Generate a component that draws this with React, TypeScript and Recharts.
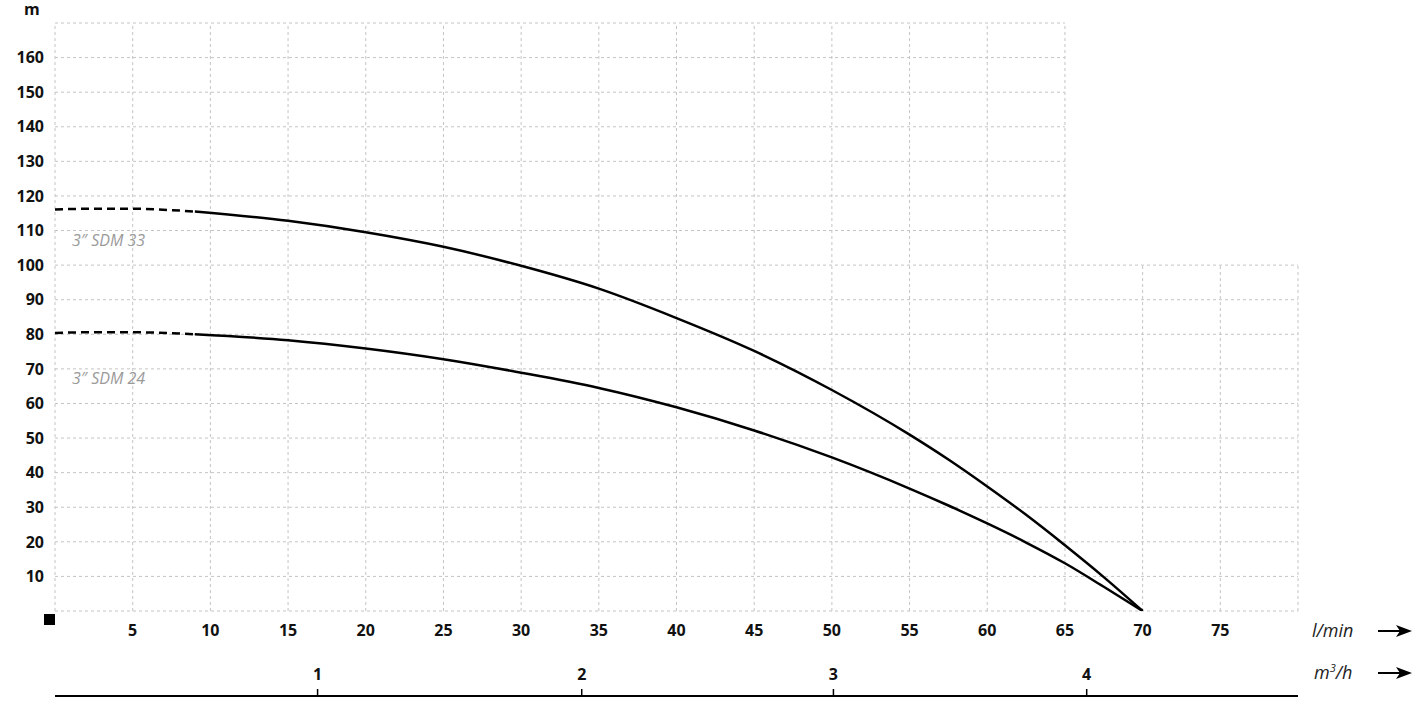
import { LineChart, Line, XAxis, YAxis, ReferenceLine } from 'recharts';

// l/min flow points and head (m)
const sdm33DashedFlow = [0, 2.5, 5, 7.5, 9];
const sdm33DashedHead = [116.1, 116.3, 116.3, 115.9, 115.5];
const sdm33Flow = [9, 15, 20, 25, 30, 35, 40, 45, 50, 55, 57.5, 60, 62.5, 65, 67.5, 70];
const sdm33Head = [115.5, 112.8, 109.5, 105.3, 99.8, 93.2, 84.7, 75.2, 63.9, 51, 43.8, 36.0, 27.8, 19.0, 9.8, 0];

const sdm24DashedFlow = [0, 2.5, 5, 7.5, 9];
const sdm24DashedHead = [80.4, 80.6, 80.6, 80.3, 80];
const sdm24Flow = [9, 15, 20, 25, 30, 35, 40, 45, 50, 55, 57.5, 60, 62.5, 65, 67.5, 70];
const sdm24Head = [80, 78.3, 75.9, 72.8, 68.9, 64.5, 58.9, 52.2, 44.4, 35.4, 30.5, 25.3, 19.8, 13.8, 7, 0];

const flowTicks = [5, 10, 15, 20, 25, 30, 35, 40, 45, 50, 55, 60, 65, 70, 75];
const headTicks = [10, 20, 30, 40, 50, 60, 70, 80, 90, 100, 110, 120, 130, 140, 150, 160];
const gridX = [0, 5, 10, 15, 20, 25, 30, 35, 40, 45, 50, 55, 60, 65, 70, 75, 80];
const gridY = [0, 10, 20, 30, 40, 50, 60, 70, 80, 90, 100, 110, 120, 130, 140, 150, 160, 170];

// m3/h labels and where they sit on the l/min scale
const m3hTicks = [16.9, 33.9, 50.1, 66.4];
const m3hLabels = ['1', '2', '3', '4'];

const toPoints = (xs: number[], ys: number[]) => xs.map((x, i) => ({ q: x, h: ys[i] }));

const GRID = '#c4c4c4';
const FONT = '"Open Sans", "DejaVu Sans", sans-serif';

function M3hTick(props: any) {
  const { x, y, payload } = props;
  let idx = m3hTicks.findIndex((t) => Math.abs(t - payload.value) < 0.01);
  if (idx < 0) idx = payload.index ?? 0;
  return (
    <g>
      <line x1={x} x2={x} y1={y} y2={y - 7} stroke="#000" strokeWidth={1.5} />
      <text x={x} y={y - 16} textAnchor="middle" fontFamily={FONT} fontWeight={700} fontSize={16} fill="#111">
        {m3hLabels[idx]}
      </text>
    </g>
  );
}

function Arrow({ top }: { top: number }) {
  return (
    <svg style={{ position: 'absolute', left: 1378, top: top - 8 }} width={34} height={16}>
      <line x1={0} y1={8} x2={24} y2={8} stroke="#000" strokeWidth={2} />
      <polygon points="18,2 34,8 18,14 22,8" fill="#000" />
    </svg>
  );
}

export default function App() {
  return (
    <div style={{ position: 'absolute', left: 0, top: 0, width: 1420, height: 711, background: '#fff', fontFamily: FONT }}>
      <LineChart width={1420} height={711} margin={{ top: 23, right: 122, left: 0, bottom: 0 }}>
        <XAxis
          xAxisId="a1"
          type="number"
          dataKey="q"
          domain={[0, 80]}
          ticks={flowTicks}
          interval={0}
          height={85}
          axisLine={false}
          tickLine={false}
          tickSize={0}
          tickMargin={14}
          tick={{ fontSize: 16, fontWeight: 700, fill: '#111', fontFamily: FONT }}
          allowDataOverflow
        />
        <XAxis
          xAxisId="a2"
          type="number"
          dataKey="q"
          domain={[0, 80]}
          ticks={m3hTicks}
          interval={0}
          height={15}
          axisLine={{ stroke: '#000', strokeWidth: 2 }}
          tickLine={false}
          tickSize={0}
          tickMargin={0}
          tick={(p: any) => <M3hTick {...p} />}
          allowDataOverflow
        />
        <YAxis
          type="number"
          domain={[0, 170]}
          ticks={headTicks}
          interval={0}
          width={55}
          axisLine={false}
          tickLine={false}
          tickSize={0}
          tickMargin={11}
          tick={{ fontSize: 16, fontWeight: 700, fill: '#111', fontFamily: FONT }}
          allowDataOverflow
        />

        {gridX.map((gx) => (
          <ReferenceLine
            key={'vx' + gx}
            xAxisId="a1"
            segment={[{ x: gx, y: 0 }, { x: gx, y: gx > 65 ? 100 : 170 }]}
            stroke={GRID}
            strokeDasharray="3 3"
          />
        ))}
        {gridY.map((gy) => (
          <ReferenceLine
            key={'hy' + gy}
            xAxisId="a1"
            segment={[{ x: 0, y: gy }, { x: gy > 100 ? 65 : 80, y: gy }]}
            stroke={GRID}
            strokeDasharray="3 3"
          />
        ))}

        {/* invisible series so the m3/h axis has data of its own */}
        <Line
          xAxisId="a2"
          data={toPoints(m3hTicks, m3hTicks.map(() => 0))}
          dataKey="h"
          stroke="none"
          dot={false}
          activeDot={false}
          isAnimationActive={false}
        />

        <Line
          xAxisId="a1"
          data={toPoints(sdm33DashedFlow, sdm33DashedHead)}
          dataKey="h"
          type="monotone"
          stroke="#000"
          strokeWidth={2.5}
          strokeDasharray="8 5"
          dot={false}
          activeDot={false}
          isAnimationActive={false}
        />
        <Line
          xAxisId="a1"
          data={toPoints(sdm33Flow, sdm33Head)}
          dataKey="h"
          type="monotone"
          stroke="#000"
          strokeWidth={2.5}
          dot={false}
          activeDot={false}
          isAnimationActive={false}
        />
        <Line
          xAxisId="a1"
          data={toPoints(sdm24DashedFlow, sdm24DashedHead)}
          dataKey="h"
          type="monotone"
          stroke="#000"
          strokeWidth={2.5}
          strokeDasharray="8 5"
          dot={false}
          activeDot={false}
          isAnimationActive={false}
        />
        <Line
          xAxisId="a1"
          data={toPoints(sdm24Flow, sdm24Head)}
          dataKey="h"
          type="monotone"
          stroke="#000"
          strokeWidth={2.5}
          dot={false}
          activeDot={false}
          isAnimationActive={false}
        />
      </LineChart>

      <div style={{ position: 'absolute', left: 24, top: -2, fontSize: 16, fontWeight: 700, color: '#111' }}>m</div>
      <div style={{ position: 'absolute', left: 44, top: 614, width: 11, height: 11, background: '#000' }} />

      <div style={{ position: 'absolute', left: 72, top: 229, fontSize: 16, fontStyle: 'italic', color: '#9a9a9a' }}>
        3″ SDM 33
      </div>
      <div style={{ position: 'absolute', left: 72, top: 367, fontSize: 16, fontStyle: 'italic', color: '#9a9a9a' }}>
        3″ SDM 24
      </div>

      <div style={{ position: 'absolute', left: 1312, top: 618, fontSize: 18, fontStyle: 'italic', color: '#222' }}>l/min</div>
      <Arrow top={631} />
      <div style={{ position: 'absolute', left: 1314, top: 660, fontSize: 18, fontStyle: 'italic', color: '#222' }}>
        m<sup style={{ fontSize: 11 }}>3</sup>/h
      </div>
      <Arrow top={673} />
    </div>
  );
}
